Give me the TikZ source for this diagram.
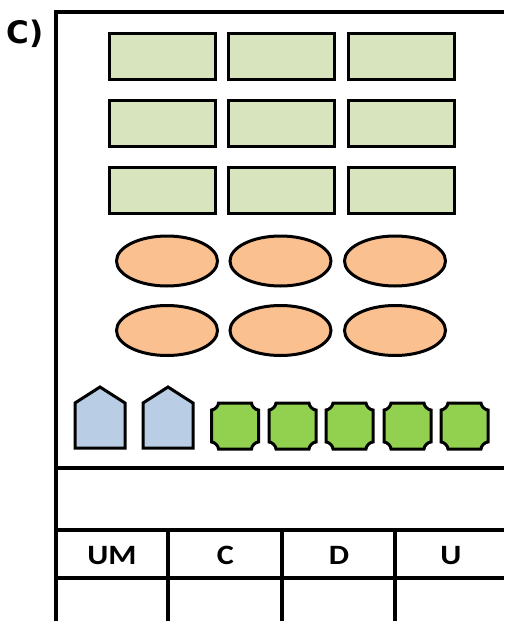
\documentclass[tikz,border=0pt]{standalone}
\usepackage{fontspec}
\setmainfont{Carlito}
\newfontfamily\labfont{DejaVu Sans}
\newfontfamily\tabfont[FakeStretch=1.15]{Carlito}
\usetikzlibrary{shapes.geometric}
\definecolor{rectgreen}{HTML}{D7E4BD}
\definecolor{ovalorange}{HTML}{FAC090}
\definecolor{penblue}{HTML}{B9CDE5}
\definecolor{octgreen}{HTML}{92D050}
\tikzset{
  frameline/.style={line width=4pt},
  brick/.style={draw, line width=3pt, fill=rectgreen, minimum width=106pt, minimum height=46pt, inner sep=0pt},
  oval/.style={ellipse, draw, line width=3pt, fill=ovalorange, minimum width=101pt, minimum height=50pt, inner sep=0pt},
  penta/.style={draw, line width=3pt, fill=penblue, line join=miter},
  octa/.style={draw, line width=3pt, fill=octgreen},
  collabel/.style={font=\tabfont\bfseries\fontsize{28}{32}\selectfont, inner sep=0pt}
}
\begin{document}
\begin{tikzpicture}[x=1pt,y=-1pt]
\useasboundingbox (0,0) rectangle (504,621);
% label
\node[font=\labfont\bfseries\fontsize{31}{35}\selectfont, inner sep=0pt] (lab) at (25,33.5) {C)};
% frame
\draw[frameline] (55.5,621) -- (55.5,12) -- (504,12);
\draw[frameline] (55.5,468) -- (504,468);
\draw[frameline] (55.5,530) -- (504,530);
\draw[frameline] (55.5,578) -- (504,578);
\draw[frameline] (168,530) -- (168,621);
\draw[frameline] (282,530) -- (282,621);
\draw[frameline] (395,530) -- (395,621);
% bricks
\foreach \r/\y in {1/56,2/123,3/190}{
  \foreach \c/\x in {1/162,2/281,3/401}{
    \node[brick] (b\r\c) at (\x,\y) {};
  }
}
% ovals
\foreach \r/\y in {1/261,2/330.5}{
  \foreach \c/\x in {1/167,2/280.5,3/395}{
    \node[oval] (o\r\c) at (\x,\y) {};
  }
}
% pentagons
\foreach \i/\x in {1/100,2/168}{
  \draw[penta] (\x-25,448) -- (\x-25,403) -- (\x,387) -- (\x+25,403) -- (\x+25,448) -- cycle;
}
% octagons (plaques)
\def\rr{7}
\def\kk{3.1}
\foreach \i/\x in {1/235,2/292.5,3/349.5,4/407.5,5/464.5}{
  \draw[octa] (\x-23.5+\rr,403) -- (\x+23.5-\rr,403)
    .. controls (\x+23.5-\rr,403+\kk) and (\x+23.5-\kk,403+\rr) .. (\x+23.5,403+\rr)
    -- (\x+23.5,449-\rr)
    .. controls (\x+23.5-\kk,449-\rr) and (\x+23.5-\rr,449-\kk) .. (\x+23.5-\rr,449)
    -- (\x-23.5+\rr,449)
    .. controls (\x-23.5+\rr,449-\kk) and (\x-23.5+\kk,449-\rr) .. (\x-23.5,449-\rr)
    -- (\x-23.5,403+\rr)
    .. controls (\x-23.5+\kk,403+\rr) and (\x-23.5+\rr,403+\kk) .. cycle;
}
% column labels
\node[collabel] (um) at (112,555.5) {UM};
\node[collabel] (c) at (225.5,555.5) {C};
\node[collabel] (d) at (339,555.5) {D};
\node[collabel] (u) at (451,555.5) {U};
\end{tikzpicture}
\end{document}
